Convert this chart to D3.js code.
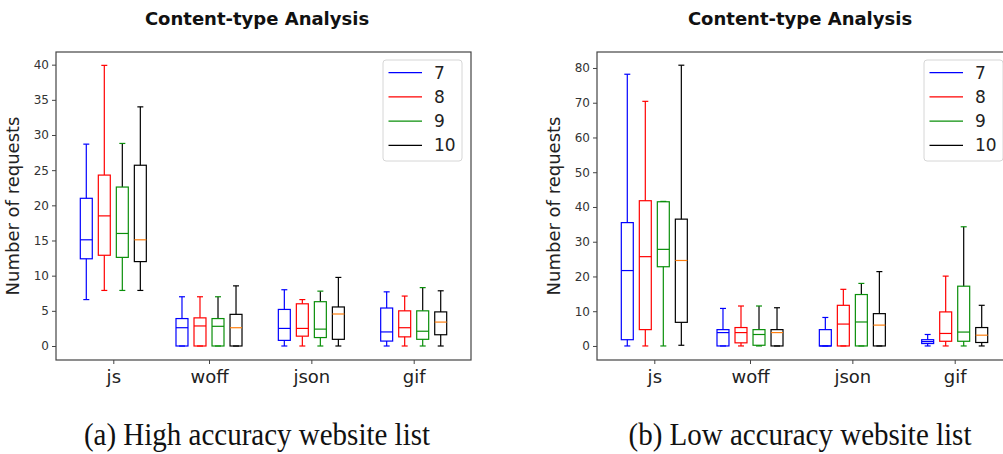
<!DOCTYPE html>
<html>
<head>
<meta charset="utf-8">
<script src="https://cdn.jsdelivr.net/npm/d3@7"></script>
<style>
  body { margin: 0; background: #fff; }
  svg { display: block; }
</style>
</head>
<body>
<div id="chart"></div>
<script>
var categories = ['js', 'woff', 'json', 'gif'];
var seriesNames = ['7', '8', '9', '10'];
// category centres on the x axis (the groups are not evenly spaced in the original)
var catPos = [0, 0.935, 1.935, 2.935];

// each row: [lowWhisker, q1, median, q3, highWhisker] for js, woff, json, gif
var high7 = [[6.6, 12.4, 15.1, 21.0, 28.7], [0, 0, 2.6, 3.9, 7.0], [0, 0.8, 2.5, 5.2, 8.0], [0, 0.7, 2.0, 5.4, 7.7]];
var high8 = [[7.9, 12.9, 18.5, 24.3, 39.9], [0, 0, 2.85, 4.0, 7.0], [0, 1.4, 2.5, 6.0, 6.6], [0, 1.3, 2.6, 5.0, 7.1]];
var high9 = [[7.9, 12.6, 16.0, 22.6, 28.8], [0, 0, 2.8, 3.9, 7.0], [0, 1.2, 2.4, 6.3, 7.8], [0, 0.95, 2.1, 5.0, 8.3]];
var high10 = [[7.9, 12.0, 15.1, 25.7, 34.0], [0, 0, 2.6, 4.5, 8.55], [0, 0.95, 4.55, 5.55, 9.75], [0, 1.6, 3.4, 4.85, 7.85]];

var low7 = [[0, 1.8, 21.7, 35.5, 78.2], [0, 0, 3.85, 4.7, 10.8], [0, 0, 0, 4.7, 8.2], [0, 0.7, 1.25, 1.8, 3.3]];
var low8 = [[0, 4.7, 25.7, 41.8, 70.4], [0, 0.9, 3.85, 5.3, 11.5], [0, 0, 6.3, 11.7, 16.3], [0, 1.35, 3.6, 9.8, 20.1]];
var low9 = [[0, 22.8, 27.8, 41.5, 41.6], [0, 0.2, 3.3, 4.7, 11.5], [0, 0, 6.9, 14.8, 18.0], [0, 1.35, 4.0, 17.2, 34.3]];
var low10 = [[0.2, 6.8, 24.6, 36.5, 80.8], [0, 0, 3.85, 4.7, 11.0], [0, 0, 6.0, 9.3, 21.4], [0, 1.0, 3.1, 5.3, 11.7]];

var highTicks = [0, 5, 10, 15, 20, 25, 30, 35, 40];
var lowTicks = [0, 10, 20, 30, 40, 50, 60, 70, 80];

var colors = ['#0000ff', '#ff0000', '#0a8f0a', '#000000'];
var medianColors = ['#0000ff', '#ff0000', '#0a8f0a', '#ff7f0e'];
var upperWhiskerColors = ['#0000ff', '#ff0000', '#000000', '#000000'];

var W = 1003, H = 454;
var svg = d3.select('#chart').append('svg').attr('width', W).attr('height', H);

var panels = [
  { series: [high7, high8, high9, high10], ticks: highTicks, yDomain: [-1.99, 41.8],
    left: 56, right: 471, top: 52, bottom: 360, titleX: 257, captionX: 257, ylabelX: 19,
    caption: '(a) High accuracy website list' },
  { series: [low7, low8, low9, low10], ticks: lowTicks, yDomain: [-4.04, 84.6],
    left: 597, right: 1012, top: 52, bottom: 360, titleX: 800, captionX: 800, ylabelX: 560,
    caption: '(b) Low accuracy website list' }
];

var boxStep = 0.176, boxW = 0.117;

panels.forEach(function(p) {
  var x = d3.scaleLinear().domain([-0.56, 3.495]).range([p.left, p.right]);
  var y = d3.scaleLinear().domain(p.yDomain).range([p.bottom, p.top]);
  var g = svg.append('g');

  /* axes */
  var yAxis = g.append('g').attr('transform', 'translate(' + p.left + ',0)')
    .call(d3.axisLeft(y).tickValues(p.ticks).tickSize(4).tickPadding(3));
  yAxis.select('.domain').remove();
  yAxis.selectAll('line').attr('stroke', '#444');
  yAxis.selectAll('text').attr('font-family', 'DejaVu Sans').attr('font-size', 12).attr('fill', '#333');

  var xAxis = g.append('g').attr('transform', 'translate(0,' + p.bottom + ')')
    .call(d3.axisBottom(x).tickValues(catPos).tickFormat(function(d, i) { return categories[i]; })
      .tickSize(4).tickPadding(6));
  xAxis.select('.domain').remove();
  xAxis.selectAll('line').attr('stroke', '#444');
  xAxis.selectAll('text').attr('font-family', 'DejaVu Sans').attr('font-size', 18).attr('fill', '#222');

  g.append('rect')
    .attr('x', p.left).attr('y', p.top)
    .attr('width', p.right - p.left).attr('height', p.bottom - p.top)
    .attr('fill', 'none').attr('stroke', '#444').attr('stroke-width', 1.2);

  /* boxes */
  p.series.forEach(function(rows, si) {
    rows.forEach(function(s, ci) {
      var cx = x(catPos[ci] + (si - 1.5) * boxStep);
      var hw = (x(boxW) - x(0)) / 2;
      var bg = g.append('g').attr('stroke-width', 1.2).attr('fill', 'none');
      bg.append('line').attr('x1', cx).attr('x2', cx).attr('y1', y(s[0])).attr('y2', y(s[1])).attr('stroke', colors[si]);
      bg.append('line').attr('x1', cx).attr('x2', cx).attr('y1', y(s[3])).attr('y2', y(s[4])).attr('stroke', upperWhiskerColors[si]);
      [s[0], s[4]].forEach(function(v) {
        bg.append('line').attr('x1', cx - hw / 2).attr('x2', cx + hw / 2)
          .attr('y1', y(v)).attr('y2', y(v)).attr('stroke', colors[si]);
      });
      bg.append('rect').attr('x', cx - hw).attr('width', 2 * hw)
        .attr('y', y(s[3])).attr('height', y(s[1]) - y(s[3])).attr('stroke', colors[si]);
      bg.append('line').attr('x1', cx - hw).attr('x2', cx + hw)
        .attr('y1', y(s[2])).attr('y2', y(s[2])).attr('stroke', medianColors[si]);
    });
  });

  /* legend */
  var lw = 79, lh = 101;
  var lx = p.right - 9 - lw, ly = p.top + 8;
  var leg = g.append('g');
  leg.append('rect').attr('x', lx).attr('y', ly).attr('width', lw).attr('height', lh)
    .attr('rx', 3).attr('fill', '#fff').attr('fill-opacity', 0.8).attr('stroke', '#d6d6d6');
  seriesNames.forEach(function(name, i) {
    var ry = ly + 12.7 + i * 24.2;
    leg.append('line').attr('x1', lx + 5.5).attr('x2', lx + 39).attr('y1', ry).attr('y2', ry)
      .attr('stroke', colors[i]).attr('stroke-width', 1.3);
    leg.append('text').attr('x', lx + 51).attr('y', ry + 6).text(name)
      .attr('font-family', 'DejaVu Sans').attr('font-size', 17).attr('fill', '#222');
  });

  /* texts */
  g.append('text').attr('x', p.titleX).attr('y', 25).attr('text-anchor', 'middle')
    .attr('font-family', 'DejaVu Sans').attr('font-weight', 'bold').attr('font-size', 18)
    .attr('fill', '#111').text('Content-type Analysis');
  g.append('text').attr('transform', 'translate(' + p.ylabelX + ',' + (p.top + p.bottom) / 2 + ') rotate(-90)')
    .attr('text-anchor', 'middle').attr('font-family', 'DejaVu Sans').attr('font-size', 18)
    .attr('fill', '#222').text('Number of requests');
  g.append('text').attr('transform', 'translate(' + p.captionX + ',445) scale(1,1.08)')
    .attr('text-anchor', 'middle')
    .attr('font-family', 'Liberation Serif').attr('font-size', 29).attr('fill', '#111').text(p.caption);
});
</script>
</body>
</html>
